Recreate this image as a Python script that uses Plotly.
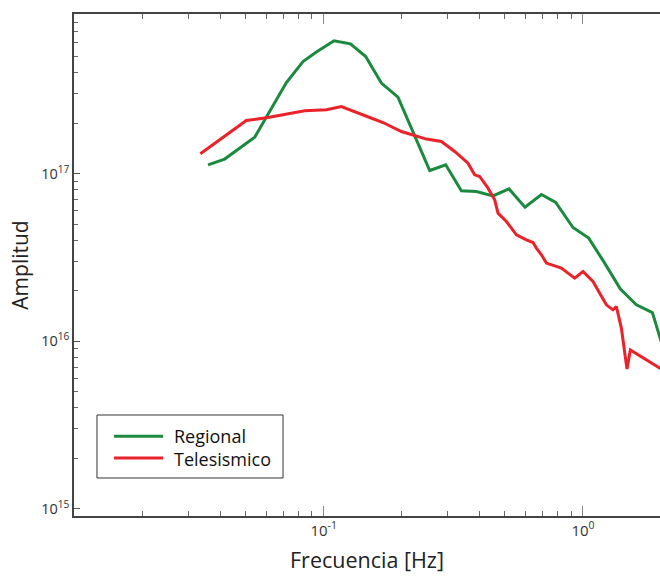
import plotly.graph_objects as go

# ---- data ----
freq_regional = [0.0358, 0.0415, 0.0542, 0.0604, 0.0718, 0.0832, 0.0937, 0.1096, 0.1268,
                 0.1452, 0.1669, 0.1934, 0.2564, 0.2955, 0.3396, 0.3881, 0.4496, 0.5184,
                 0.5974, 0.6913, 0.7849, 0.9149, 1.052, 1.2125, 1.394, 1.607, 1.852, 2.047]
amp_regional = [1.127e17, 1.219e17, 1.648e17, 2.187e17, 3.487e17, 4.655e17, 5.295e17, 6.183e17,
                5.934e17, 4.985e17, 3.459e17, 2.855e17, 1.042e17, 1.127e17, 7.88e16, 7.81e16,
                7.36e16, 8.10e16, 6.30e16, 7.49e16, 6.72e16, 4.764e16, 4.119e16, 2.922e16,
                2.045e16, 1.648e16, 1.483e16, 8.91e15]

freq_tele = [0.03345, 0.05031, 0.06098, 0.08446, 0.1024, 0.1170, 0.1505, 0.1693, 0.1994,
             0.2489, 0.2844, 0.3200, 0.3601, 0.3821, 0.3995, 0.4302, 0.4566, 0.4702, 0.5066,
             0.5537, 0.6049, 0.6415, 0.6611, 0.6913, 0.7225, 0.7659, 0.8255, 0.8754, 0.9290,
             1.000, 1.093, 1.160, 1.231, 1.305, 1.345, 1.406, 1.448, 1.478, 1.523, 1.976, 2.066]
amp_tele = [1.311e17, 2.070e17, 2.158e17, 2.365e17, 2.398e17, 2.509e17, 2.158e17, 2.014e17,
            1.780e17, 1.604e17, 1.551e17, 1.353e17, 1.153e17, 9.82e16, 9.60e16, 8.18e16,
            6.97e16, 5.806e16, 5.173e16, 4.310e16, 4.024e16, 3.878e16, 3.590e16, 3.275e16,
            2.922e16, 2.828e16, 2.729e16, 2.547e16, 2.378e16, 2.603e16, 2.270e16, 1.935e16,
            1.648e16, 1.539e16, 1.610e16, 1.197e16, 8.49e15, 6.82e15, 8.88e15, 6.91e15, 6.63e15]

x_tickvals = [0.1, 1]
x_ticktext = ["10<sup>-1</sup>", "10<sup>0</sup>"]
y_tickvals = [1e15, 1e16, 1e17]
y_ticktext = ["10<sup>15</sup>", "10<sup>16</sup>", "10<sup>17</sup>"]

series_names = ["Regional", "Telesismico"]
series_colors = ["#1b8a3e", "#ea2229"]

FONT = "Open Sans"
AXIS_COLOR = "#444444"

fig = go.Figure()
fig.add_trace(go.Scatter(x=freq_regional, y=amp_regional, mode="lines", name=series_names[0],
                         line=dict(color=series_colors[0], width=3), showlegend=False))
fig.add_trace(go.Scatter(x=freq_tele, y=amp_tele, mode="lines", name=series_names[1],
                         line=dict(color=series_colors[1], width=3), showlegend=False))

# ---- legend box drawn in paper coordinates ----
legend_box = dict(x0=0.0392, x1=0.3567, y0=0.0757, y1=0.2012)
legend_rows_y = [0.1590, 0.1155]
legend_line_x = (0.0683, 0.1519)
legend_text_x = 0.1672

shapes = [dict(type="rect", xref="paper", yref="paper", **legend_box,
               line=dict(color="#333333", width=1), fillcolor="white", layer="above")]
for color, yy in zip(series_colors, legend_rows_y):
    shapes.append(dict(type="line", xref="paper", yref="paper",
                       x0=legend_line_x[0], x1=legend_line_x[1], y0=yy, y1=yy,
                       line=dict(color=color, width=3), layer="above"))
annotations = [dict(text="<br>".join(series_names), xref="paper", yref="paper",
                    x=legend_text_x, y=sum(legend_rows_y) / 2,
                    xanchor="left", yanchor="middle", align="left", showarrow=False,
                    font=dict(family=FONT, size=18, color="#111111"))]

fig.update_layout(
    width=660, height=576,
    margin=dict(l=74, r=0, t=14, b=60),
    paper_bgcolor="white", plot_bgcolor="white",
    font=dict(family=FONT, color="#222222"),
    showlegend=False,
    shapes=shapes, annotations=annotations,
)

fig.update_xaxes(
    type="log", range=[-1.963, 0.297],
    showgrid=False, zeroline=False,
    showline=True, linecolor=AXIS_COLOR, linewidth=1.5, mirror="ticks",
    ticks="inside", ticklen=10, tickwidth=1, tickcolor="#888888",
    tickvals=x_tickvals, ticktext=x_ticktext,
    tickfont=dict(family=FONT, size=15, color="#333333"),
    minor=dict(ticks="inside", ticklen=5, tickcolor="#666666", dtick="D1", showgrid=False),
    title=dict(text="Frecuencia [Hz]", font=dict(family=FONT, size=21.5, color="#222222"), standoff=14),
)
fig.update_yaxes(
    type="log", range=[14.958, 17.951],
    showgrid=False, zeroline=False,
    showline=True, linecolor=AXIS_COLOR, linewidth=1.5, mirror=False,
    ticks="inside", ticklen=6, tickwidth=1, tickcolor="#555555",
    tickvals=y_tickvals, ticktext=y_ticktext,
    tickfont=dict(family=FONT, size=14.5, color="#333333"),
    minor=dict(ticks="inside", ticklen=4, tickcolor="#666666", dtick="D1", showgrid=False),
    title=dict(text="Amplitud", font=dict(family=FONT, size=21, color="#222222"), standoff=7),
)

fig.write_html("out.html")
